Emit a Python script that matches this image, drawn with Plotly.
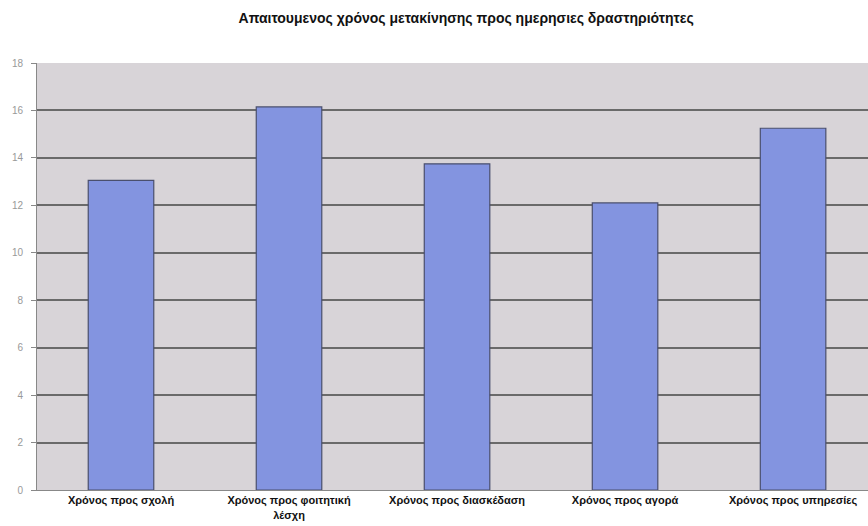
import plotly.graph_objects as go

categories = ["Χρόνος προς σχολή", "Χρόνος προς φοιτητική<br>λέσχη", "Χρόνος προς διασκέδαση",
              "Χρόνος προς αγορά", "Χρόνος προς υπηρεσίες"]
values = [13.05, 16.15, 13.75, 12.1, 15.25]
y_ticks = [0, 2, 4, 6, 8, 10, 12, 14, 16, 18]

fig = go.Figure()
fig.add_trace(go.Bar(
    x=list(range(len(categories))), y=values,
    width=0.39,
    marker=dict(color="#8394e0", line=dict(color="#4a4f6e", width=1.2)),
))

fig.update_layout(
    width=868, height=526,
    margin=dict(l=37, r=0, t=63, b=36),
    paper_bgcolor="white",
    plot_bgcolor="#d8d4d8",
    showlegend=False,
    title=dict(text="<b>Απαιτουμενος χρόνος μετακίνησης προς ημερησιες δραστηριότητες</b>",
               x=0.537, xanchor="center", y=0.965, yanchor="middle",
               font=dict(family="Liberation Sans Narrow, Arial Narrow, Liberation Sans", size=14, color="#111")),
    font=dict(family="Liberation Sans Narrow, Liberation Sans, Arial", color="#111"),
)
fig.update_xaxes(
    range=[-0.5, 4.446],
    tickvals=list(range(len(categories))),
    ticktext=["<b>" + c + "</b>" for c in categories],
    tickfont=dict(size=11, color="#111", family="Liberation Sans Narrow, Liberation Sans"),
    showgrid=False, showline=True, linecolor="#888", linewidth=1,
    ticks="", tickangle=0,
)
fig.update_yaxes(
    range=[0, 18], tickvals=y_ticks,
    tickfont=dict(size=10, color="#999"),
    ticklabelstandoff=6,
    showgrid=True, gridcolor="#6a6a6a", gridwidth=1.5,
    showline=True, linecolor="#888", linewidth=1,
    ticks="outside", ticklen=5, tickcolor="#888",
    zeroline=False,
)

fig.write_html("out.html")
